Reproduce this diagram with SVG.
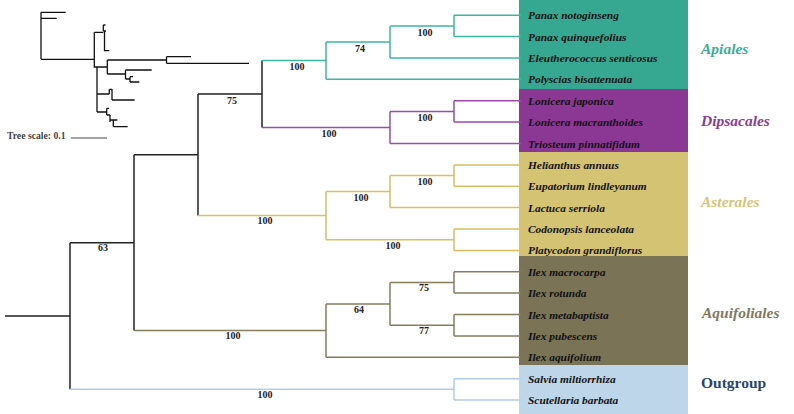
<svg xmlns="http://www.w3.org/2000/svg" width="794" height="414" viewBox="0 0 794 414">
<style>
.bk{stroke:#222;stroke-width:1.5;fill:none}
.ap{stroke:#3DB8A0;stroke-width:1.5;fill:none}
.di{stroke:#9C4AAA;stroke-width:1.5;fill:none}
.as{stroke:#D9BF62;stroke-width:1.5;fill:none}
.aq{stroke:#857D5E;stroke-width:1.5;fill:none}
.og{stroke:#B3CCE8;stroke-width:1.5;fill:none}
.ins{stroke:#111;stroke-width:1.3;fill:none}
.leaf{font-family:"Liberation Serif","Times New Roman",serif;font-size:11.4px;font-weight:bold;font-style:italic;fill:#111}
.bs{font-family:"Liberation Serif","Times New Roman",serif;font-size:10px;font-weight:bold;fill:#222;text-anchor:middle}
.cl{font-family:"Liberation Serif","Times New Roman",serif;font-size:15.5px;font-weight:bold;font-style:italic}
</style>
<rect width="794" height="414" fill="#fff"/>
<g id="boxes">
<rect x="519" y="0" width="169" height="89" fill="#36A891"/>
<rect x="519" y="89" width="169" height="63" fill="#8B3794"/>
<rect x="519" y="152" width="169" height="104" fill="#D4C372"/>
<rect x="519" y="256" width="169" height="109" fill="#7A7356"/>
<rect x="519" y="365" width="169" height="49" fill="#BED6EA"/>
</g>
<g id="inset">
<path class="ins" d="M41,12.3V59.3M41,12.3H65.7M41,18.3H56.7M41,59.3H94.3M94.3,32.3V67H97V112M94.3,32.3H103.3M103.3,25V31M103.3,25H105.5M103.3,31H106M104.5,31V50.7H109.3M95,67H107.3M107.3,60V74M107.3,60H166.5M166.5,56.7V63.3M166.5,56.7H191M166.5,63.3H249M107.3,74H125.5M125.5,70V79M125.5,70H151.7M125.5,79H130M130,76.7V82M130,76.7H133M130,82H139.3M97,94H109.3M109.3,89.3V94M109.3,89.3H112M112,89V100M112,100H134.7M97,112H106.7M106.7,108.3V115M106.7,108.3H109M106.7,115H110M110,115V122M110,120H113.3M113.3,120V126.7M113.3,120H117.3M113.3,126.7H127.7"/>
<text x="7" y="139" style="font-family:'Liberation Serif','Times New Roman',serif;font-size:9.7px;font-weight:bold;fill:#444">Tree scale: 0.1</text>
<line x1="71" y1="138" x2="107" y2="138" stroke="#444" stroke-width="1"/>
</g>
<g id="connectors">
<path class="bk" d="M5,316H70M70,242.7V389.3M70,242.7H134M134,154.8V330.6M134,154.8H198M198,94V215.6M198,94H262M262,60.6V127.5"/>
<path class="ap" d="M262,60.6H326M326,42V79.3M326,42H390M390,26V58M390,26H454M454,15.2V36.6M454,15.2H521M454,36.6H521M390,58H521M326,79.3H521"/>
<path class="di" d="M262,127.5H390M390,111.4V143.5M390,111.4H454M454,100.7V122.1M454,100.7H521M454,122.1H521M390,143.5H521"/>
<path class="as" d="M198,215.6H326M326,191.6V239.7M326,191.6H390M390,175.6V207.6M390,175.6H454M454,164.9V186.2M454,164.9H521M454,186.2H521M390,207.6H521M326,239.7H454M454,229V250.4M454,229H521M454,250.4H521"/>
<path class="aq" d="M134,330.6H326M326,303.9V357.3M326,303.9H390M390,282.5V325.2M390,282.5H454M454,271.8V293.1M454,271.8H521M454,293.1H521M390,325.2H454M454,314.5V335.9M454,314.5H521M454,335.9H521M326,357.3H521"/>
<path class="og" d="M70,389.3H454M454,378.7V400M454,378.7H521M454,400H521"/>
</g>
<g id="support">
<text class="bs" x="425" y="36">100</text>
<text class="bs" x="360" y="52">74</text>
<text class="bs" x="297" y="70">100</text>
<text class="bs" x="232" y="104">75</text>
<text class="bs" x="425" y="121">100</text>
<text class="bs" x="329" y="137">100</text>
<text class="bs" x="425" y="185">100</text>
<text class="bs" x="361" y="201">100</text>
<text class="bs" x="265" y="224">100</text>
<text class="bs" x="393" y="249">100</text>
<text class="bs" x="103" y="251">63</text>
<text class="bs" x="424" y="291">75</text>
<text class="bs" x="359" y="313">64</text>
<text class="bs" x="424" y="334">77</text>
<text class="bs" x="233" y="339">100</text>
<text class="bs" x="265" y="397.5">100</text>
</g>
<g id="leaves">
<text class="leaf" x="528" y="19.2">Panax notoginseng</text>
<text class="leaf" x="528" y="40.6">Panax quinquefolius</text>
<text class="leaf" x="528" y="62">Eleutherococcus senticosus</text>
<text class="leaf" x="528" y="83.3">Polyscias bisattenuata</text>
<text class="leaf" x="528" y="104.7">Lonicera japonica</text>
<text class="leaf" x="528" y="126.1">Lonicera macranthoides</text>
<text class="leaf" x="528" y="147.5">Triosteum pinnatifidum</text>
<text class="leaf" x="528" y="168.9">Helianthus annuus</text>
<text class="leaf" x="528" y="190.2">Eupatorium lindleyanum</text>
<text class="leaf" x="528" y="211.6">Lactuca serriola</text>
<text class="leaf" x="528" y="233">Codonopsis lanceolata</text>
<text class="leaf" x="528" y="254.4">Platycodon grandiflorus</text>
<text class="leaf" x="528" y="275.8">Ilex macrocarpa</text>
<text class="leaf" x="528" y="297.1">Ilex rotunda</text>
<text class="leaf" x="528" y="318.5">Ilex metabaptista</text>
<text class="leaf" x="528" y="339.9">Ilex pubescens</text>
<text class="leaf" x="528" y="361.3">Ilex aquifolium</text>
<text class="leaf" x="528" y="382.7">Salvia miltiorrhiza</text>
<text class="leaf" x="528" y="404">Scutellaria barbata</text>
</g>
<g id="clades">
<text class="cl" x="701" y="53.5" fill="#3AAE98">Apiales</text>
<text class="cl" x="701" y="126" fill="#8D3A96">Dipsacales</text>
<text class="cl" x="701" y="207" fill="#D8C47A">Asterales</text>
<text class="cl" x="702" y="318" fill="#807A5E">Aquifoliales</text>
<text x="701" y="388" fill="#2A4670" style="font-family:'Liberation Serif','Times New Roman',serif;font-size:15.5px;font-weight:bold">Outgroup</text>
</g>
</svg>
